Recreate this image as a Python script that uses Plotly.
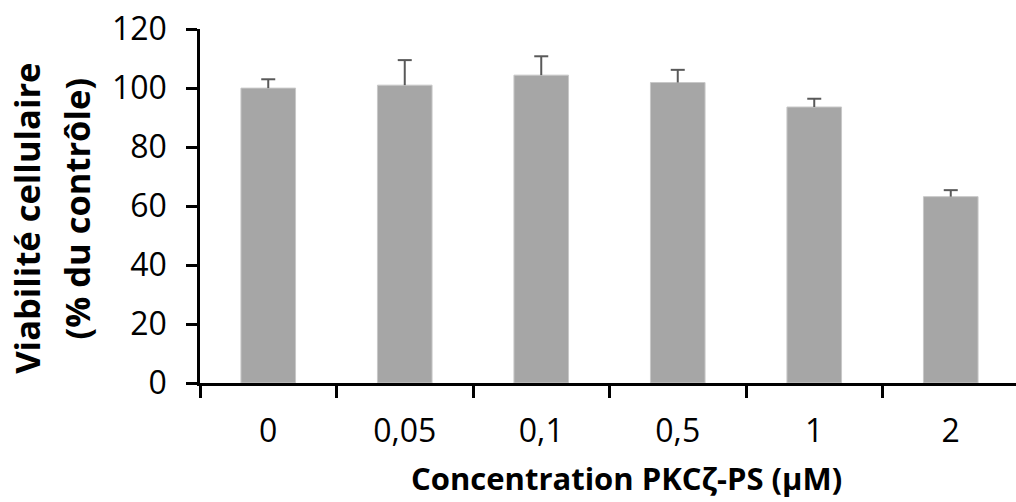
import plotly.graph_objects as go

categories = ["0", "0,05", "0,1", "0,5", "1", "2"]
viability = [100, 101, 104.4, 101.9, 93.6, 63.2]
error_up = [3.0, 8.5, 6.4, 4.3, 2.8, 2.2]
y_ticks = [0, 20, 40, 60, 80, 100, 120]
y_title_lines = ["Viabilité cellulaire", "(% du contrôle)"]
x_title = "Concentration PKCζ-PS (µM)"

cap_y = [v + e for v, e in zip(viability, error_up)]

FONT = "Open Sans"
ERR_COLOR = "#595959"

fig = go.Figure()
fig.add_trace(go.Bar(
    x=categories, y=viability, width=0.4,
    marker=dict(color="#a6a6a6", line=dict(color="#c8c8c8", width=1)),
    error_y=dict(type="data", symmetric=False, array=error_up,
                 arrayminus=[0] * len(error_up), width=0,
                 thickness=2, color=ERR_COLOR),
    showlegend=False, hoverinfo="skip",
))
fig.add_trace(go.Scatter(
    x=categories, y=cap_y, mode="markers",
    marker=dict(symbol="line-ew", size=10,
                line=dict(width=2, color=ERR_COLOR)),
    showlegend=False, hoverinfo="skip",
))

fig.update_layout(
    width=1016, height=502,
    margin=dict(l=200, r=0, t=29, b=119),
    paper_bgcolor="white", plot_bgcolor="white",
    font=dict(family=FONT, color="black"),
    xaxis=dict(
        type="category", range=[-0.5, 5.478],
        showline=True, linecolor="black", linewidth=2.5,
        ticks="outside", tickson="boundaries", ticklen=12,
        tickwidth=2.5, tickcolor="black",
        tickfont=dict(size=32, family=FONT, color="black"),
        ticklabelstandoff=18,
        showgrid=False, zeroline=False,
    ),
    yaxis=dict(
        range=[0, 120.05], tickvals=y_ticks,
        showline=True, linecolor="black", linewidth=2.5,
        ticks="outside", ticklen=11, tickwidth=2.5, tickcolor="black",
        tickfont=dict(size=32, family=FONT, color="black"),
        ticklabelstandoff=13, ticklabeloverflow="allow",
        showgrid=False, zeroline=False,
    ),
    annotations=[
        dict(text="<b>%s</b>" % y_title_lines[0],
             textangle=-90, xref="paper", yref="paper",
             x=-0.2135, y=0.466, xanchor="center", yanchor="middle",
             showarrow=False, borderpad=0,
             font=dict(size=34.5, family=FONT, color="black")),
        dict(text="<b>%s</b>" % y_title_lines[1],
             textangle=-90, xref="paper", yref="paper",
             x=-0.1515, y=0.494, xanchor="center", yanchor="middle",
             showarrow=False, borderpad=0,
             font=dict(size=34.5, family=FONT, color="black")),
        dict(text="<b>%s</b>" % x_title,
             xref="paper", yref="paper", x=0.523, y=-0.268,
             xanchor="center", yanchor="middle",
             showarrow=False, font=dict(size=31, family=FONT, color="black")),
    ],
)

fig.write_html("out.html", config={"displayModeBar": False},
               post_script="document.body.style.margin='0';")
